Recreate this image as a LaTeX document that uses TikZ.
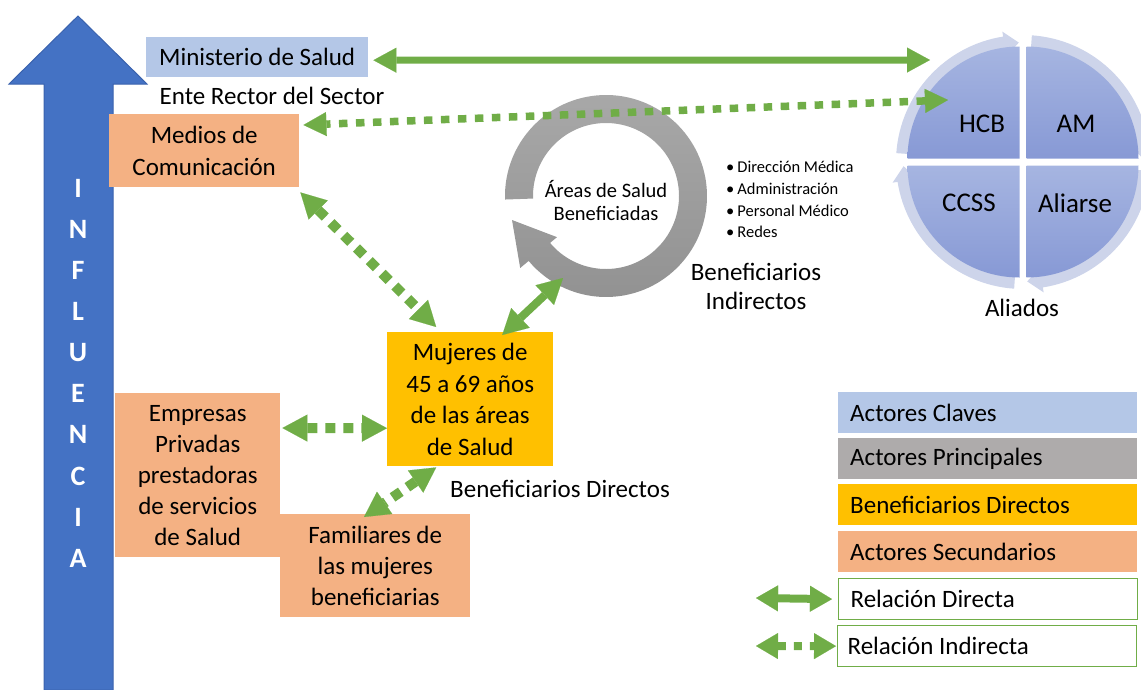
\documentclass[tikz,border=0pt]{standalone}
\usepackage{fontspec}
\setmainfont{Carlito}
\usetikzlibrary{arrows.meta,calc}
\definecolor{infl}{HTML}{4472C4}
\definecolor{infld}{HTML}{3A62AD}
\definecolor{lblue}{HTML}{B4C7E7}
\definecolor{orng}{HTML}{F4B183}
\definecolor{yell}{HTML}{FFC000}
\definecolor{lgray}{HTML}{AEABAB}
\definecolor{grn}{HTML}{70AD47}
\definecolor{ringc}{HTML}{CDD4EA}
\definecolor{qtop}{HTML}{A6B5E1}
\definecolor{qbot}{HTML}{8799D5}
\definecolor{gtop}{HTML}{A8A8A8}
\definecolor{gbot}{HTML}{929292}
\newcommand\myfs[2]{\fontsize{#1pt}{#2pt}\selectfont}
\newcommand\legtext[1]{\makebox[275pt][l]{#1}}
\tikzset{
  tipA/.tip={Triangle[length=23pt,width=25pt,line width=0.1pt]},
  tipB/.tip={Triangle[length=25pt,width=27pt,line width=0.1pt]},
  tipC/.tip={Triangle[length=23pt,width=24pt,line width=0.1pt]},
  tipL/.tip={Triangle[length=22pt,width=26pt,line width=0.1pt]},
  box/.style={anchor=north west,inner sep=0pt,align=center,font=\myfs{25}{31.5}},
  txt/.style={inner sep=0pt,align=center,font=\myfs{25}{30}},
  inflet/.style={inner sep=0pt,text=white,font=\bfseries\myfs{28}{30}},
  quadtxt/.style={inner sep=0pt,font=\myfs{27}{30}},
  legbox/.style={anchor=north west,inner xsep=12pt,inner ysep=0pt,minimum width=299pt,minimum height=41pt,font=\myfs{25}{30}},
  solidarr/.style={draw=grn,line width=7pt,arrows={tipA-tipA}},
  dotarr/.style={draw=grn,line width=10pt,dash pattern=on 10pt off 8pt,arrows={tipB-tipB}},
  longdot/.style={draw=grn,line width=7.5pt,dash pattern=on 8.5pt off 8.5pt,arrows={tipC-tipC}},
}
\begin{document}
\begin{tikzpicture}[x=1pt,y=1pt]
\useasboundingbox (0,0) rectangle (1141,-689);

% influence arrow
\filldraw[fill=infl,draw=infld,line width=1pt] (44,-690) -- (44,-84) -- (9,-84) -- (78,-16) -- (147,-84) -- (113,-84) -- (113,-690) -- cycle;
\foreach \l [count=\i from 0] in {I,N,F,L,U,E,N,C,I,A}
  \node[inflet] (inf\i) at (78,{-188-41.15*\i}) {\l};

% boxes
\node[box,fill=lblue,minimum width=222pt,minimum height=40pt] (min) at (146,-37) {Ministerio de Salud};
\node[txt] (ente) at (272,-96) {Ente Rector del Sector};
\node[box,fill=orng,minimum width=190pt,minimum height=73pt] (med) at (109,-114) {Medios de\\Comunicación};
\node[box,fill=yell,minimum width=166pt,minimum height=134pt] (muj) at (387,-332) {Mujeres de\\45 a 69 años\\de las áreas\\de Salud};
\node[box,fill=orng,minimum width=165pt,minimum height=164pt,font=\myfs{25}{31}] (emp) at (115,-393) {Empresas\\Privadas\\prestadoras\\de servicios\\de Salud};
\node[box,fill=orng,minimum width=190pt,minimum height=103pt,font=\myfs{25}{31}] (fam) at (280,-514) {Familiares de\\las mujeres\\beneficiarias};
\node[txt] (bendir) at (560,-489) {Beneficiarios Directos};

% gray circular arrow
\begin{scope}[shift={(606,-196)}]
\shade[top color=gtop,bottom color=gbot] (182:101) arc[start angle=182,end angle=-140,radius=101]
  -- (-140:112) -- (-94,-24) -- (-140:64) -- (-140:73)
  arc[start angle=-140,end angle=182,radius=73] -- cycle;
\end{scope}
\node[txt,font=\myfs{20.5}{23}] (areas) at (606,-201) {Áreas de Salud\\Beneficiadas};
\node[anchor=west,inner sep=0pt,align=left,font=\myfs{16.5}{21.7}] (bul) at (726,-199.5)
  {\textbullet\hspace{3pt}Dirección Médica\\\textbullet\hspace{3pt}Administración\\\textbullet\hspace{3pt}Personal Médico\\\textbullet\hspace{3pt}Redes};
\node[txt,font=\myfs{25}{29.5}] (benind) at (756,-286.5) {Beneficiarios\\Indirectos};

% cycle of allies
\begin{scope}[shift={(1023,-162)}]
\foreach \s/\b in {176/99, 86/9, -4/-81, -94/-171}{
  \fill[ringc] (\s:127) arc[start angle=\s,end angle=\b,radius=127]
    -- (\b:132) -- ({\b-7}:119.5) -- (\b:107) -- (\b:112)
    arc[start angle=\b,end angle=\s,radius=112] -- cycle;
}
\shade[top color=qtop,bottom color=qbot] (-3.5,3.5) -- ++(-112,0) arc[start angle=180,end angle=90,radius=112] -- cycle;
\shade[top color=qtop,bottom color=qbot] (3.5,3.5) -- ++(0,112) arc[start angle=90,end angle=0,radius=112] -- cycle;
\shade[top color=qtop,bottom color=qbot] (-3.5,-3.5) -- ++(0,-112) arc[start angle=270,end angle=180,radius=112] -- cycle;
\shade[top color=qtop,bottom color=qbot] (3.5,-3.5) -- ++(112,0) arc[start angle=0,end angle=-90,radius=112] -- cycle;
\end{scope}
\node[quadtxt] (hcb) at (982,-124) {HCB};
\node[quadtxt] (am) at (1076,-124) {AM};
\node[quadtxt] (ccss) at (969,-203) {CCSS};
\node[quadtxt] (ali) at (1075,-203) {Aliarse};
\node[txt] (aliados) at (1022,-308) {Aliados};

% legend
\node[legbox,fill=lblue] (l1) at (838,-392) {\legtext{Actores Claves}};
\node[legbox,fill=lgray] (l2) at (838,-438) {\legtext{Actores Principales}};
\node[legbox,fill=yell] (l3) at (838,-484) {\legtext{Beneficiarios Directos}};
\node[legbox,fill=orng] (l4) at (838,-531) {\legtext{Actores Secundarios}};
\node[legbox,draw=grn,line width=1.2pt] (l5) at (838,-578) {\legtext{Relación Directa}};
\node[legbox,draw=grn,line width=1.2pt,inner xsep=10pt] (l6) at (837,-625) {\makebox[279pt][l]{Relación Indirecta}};

% connectors
\coordinate (cycA) at (930,-60);
\coordinate (cycB) at (948,-100);
\coordinate (ringP) at (563,-278);
\draw[solidarr] ([shift={(5pt,-3pt)}]min.east) -- (cycA);
\draw[longdot] (cycB) -- ($(med.north east)+(4,-11)$);
\draw[dotarr] ($(med.south east)+(1,-5)$) -- ($(muj.north)+(-34,5)$);
\draw[draw=grn,line width=8pt,arrows={tipB-tipB}] ($(muj.north)+(32,-3)$) -- (ringP);
\draw[dotarr] ($(emp.north east)+(2,-35)$) -- ($(muj.west)+(0,-29)$);
\draw[dotarr] ($(muj.south)+(-34,-1)$) -- ($(fam.north west)+(84,-3)$);

% legend connectors
\coordinate (ld1) at (756,-598);
\coordinate (ld3) at (756,-646);
\draw[draw=grn,line width=8pt,arrows={tipL-tipL}] (ld1) -- ($(l5.west)+(-6,0)$);
\draw[draw=grn,line width=8pt,dash pattern=on 8pt off 8pt,arrows={tipL-tipL}] (ld3) -- ($(l6.west)+(-1,0)$);
\end{tikzpicture}
\end{document}
